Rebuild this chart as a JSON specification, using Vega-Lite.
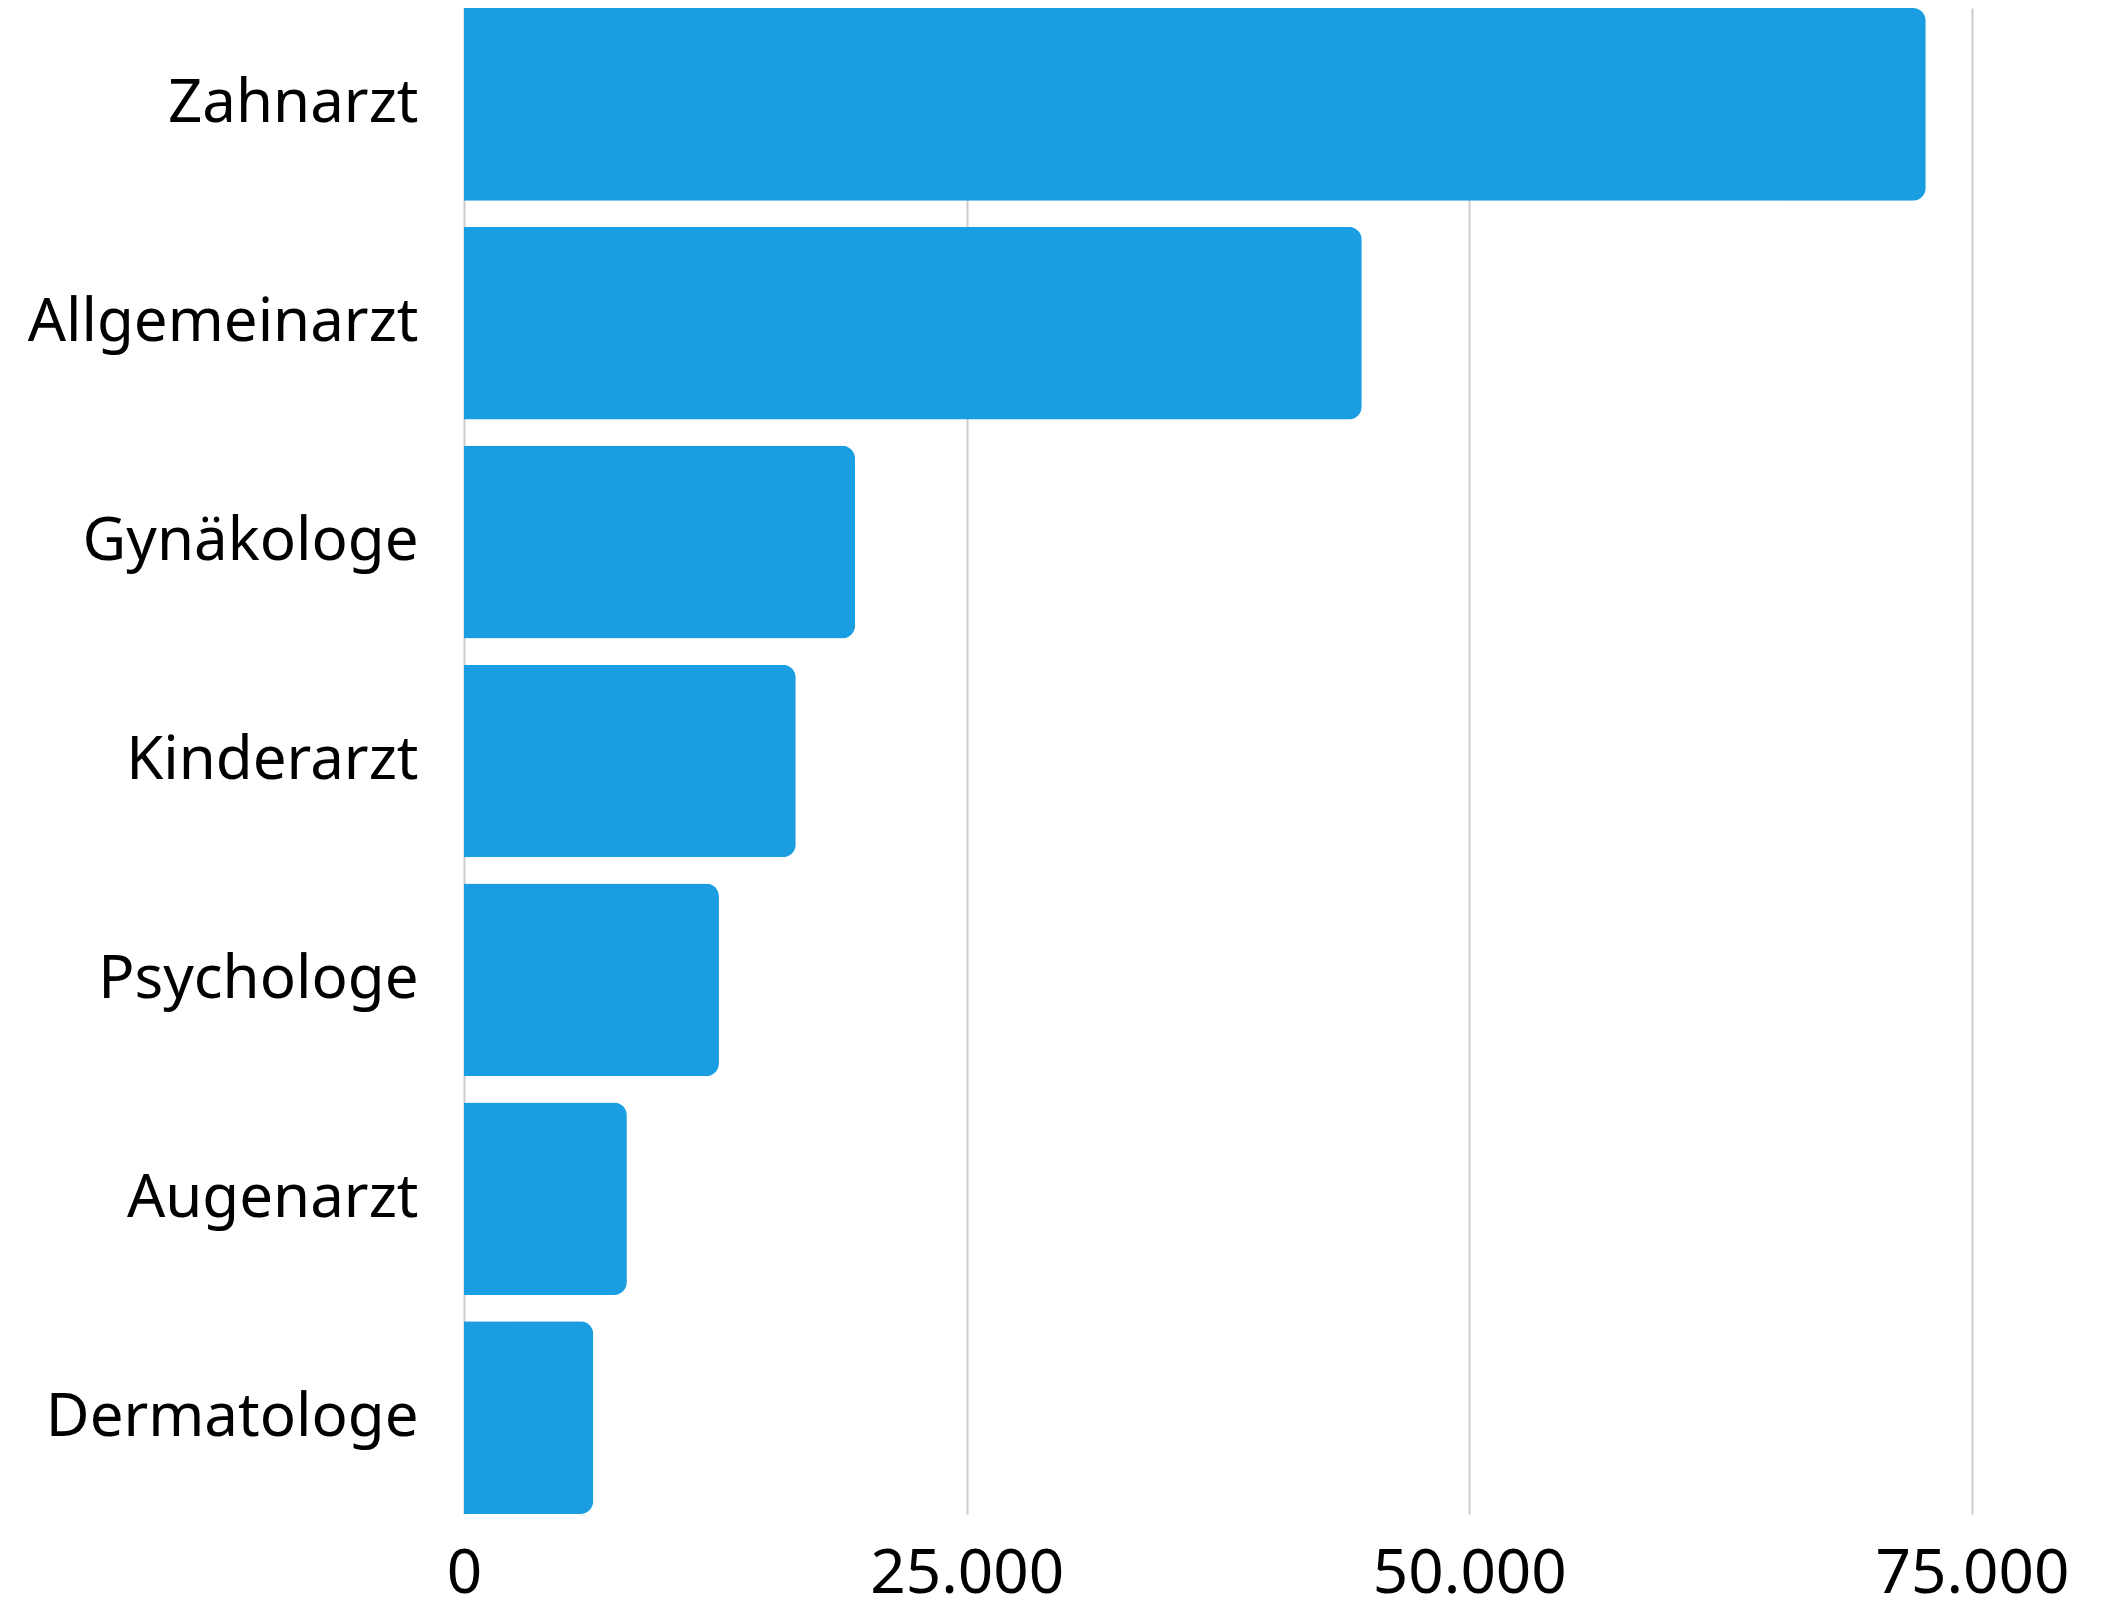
{
  "$schema": "https://vega.github.io/schema/vega-lite/v6.json",
  "width": 1508,
  "height": 1506,
  "autosize": {"type": "none"},
  "padding": {"left": 464, "top": 8, "right": 142, "bottom": 92},
  "background": "white",
  "data": {
    "values": [
      {"fach": "Zahnarzt", "wert": 72700},
      {"fach": "Allgemeinarzt", "wert": 44650},
      {"fach": "Gynäkologe", "wert": 19450},
      {"fach": "Kinderarzt", "wert": 16500},
      {"fach": "Psychologe", "wert": 12680},
      {"fach": "Augenarzt", "wert": 8100},
      {"fach": "Dermatologe", "wert": 6430}
    ]
  },
  "mark": {"type": "bar", "color": "#1b9de2", "cornerRadiusEnd": 13},
  "encoding": {
    "y": {
      "field": "fach",
      "type": "nominal",
      "sort": null,
      "scale": {"paddingInner": 0.12, "paddingOuter": 0},
      "axis": {
        "title": null,
        "ticks": false,
        "domain": false,
        "labelFont": "Noto Sans",
        "labelFontSize": 60,
        "labelColor": "#000000",
        "labelPadding": 46,
        "labelLimit": 600
      }
    },
    "x": {
      "field": "wert",
      "type": "quantitative",
      "scale": {"domain": [0, 75000], "nice": false},
      "axis": {
        "title": null,
        "values": [0, 25000, 50000, 75000],
        "labelExpr": "replace(format(datum.value, ','), ',', '.')",
        "ticks": false,
        "domain": false,
        "grid": true,
        "gridColor": "#cccccc",
        "gridWidth": 2,
        "labelFont": "Noto Sans",
        "labelFontSize": 62,
        "labelColor": "#000000",
        "labelPadding": 29,
        "labelLimit": 500,
        "labelFlush": false,
        "labelOverlap": false
      }
    }
  },
  "config": {"view": {"stroke": null}}
}
